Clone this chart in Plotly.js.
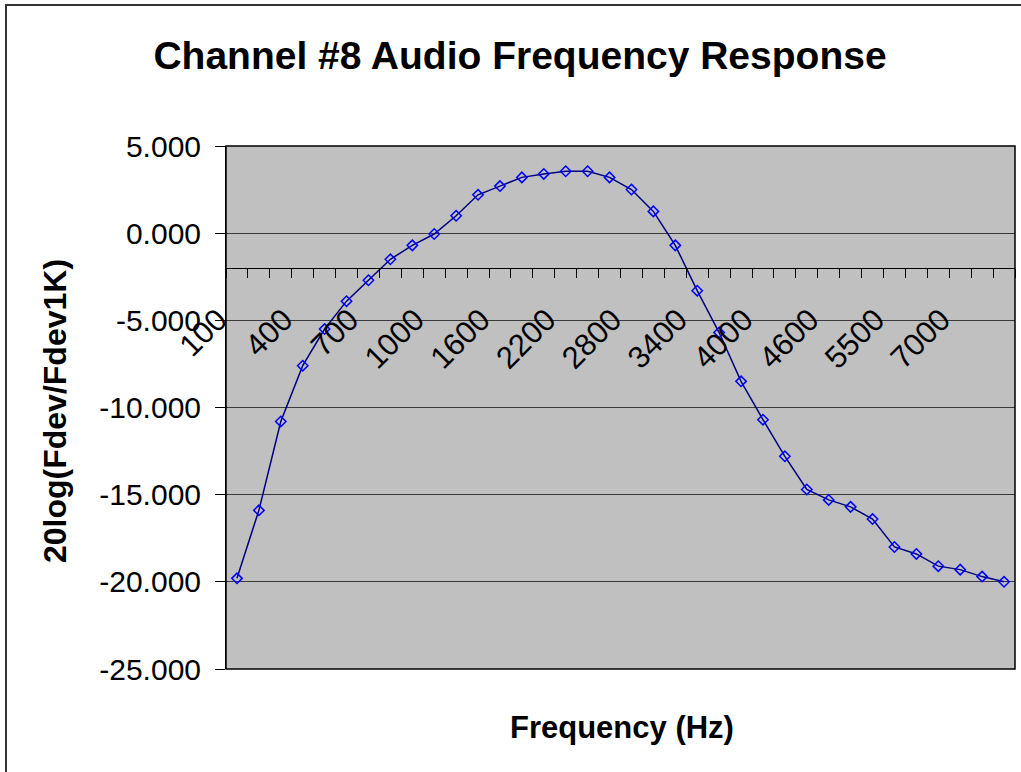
<!DOCTYPE html>
<html>
<head>
<meta charset="utf-8">
<script src="https://cdn.plot.ly/plotly-3.0.1.min.js"></script>
<style>
  html, body { margin: 0; padding: 0; background: #fff; overflow: hidden; }
  #chart { position: absolute; left: 0; top: 0; width: 1021px; height: 772px; }
  #frame { position: absolute; left: 5px; top: 4px; width: 1100px; height: 900px;
           border-left: 2px solid #333; border-top: 2px solid #333; pointer-events: none; }
</style>
</head>
<body>
<div id="chart"></div>
<div id="frame"></div>
<script>
// Frequencies (Hz) – category axis, every third labelled
const frequencies = ["100","200","300","400","500","600","700","800","900","1000",
  "1200","1400","1600","1800","2000","2200","2400","2600","2800","3000",
  "3200","3400","3600","3800","4000","4200","4400","4600","4900","5200",
  "5500","6000","6500","7000","7500","8000"];

// 20log(Fdev/Fdev1K) values
const responseDb = [-19.8, -15.9, -10.8, -7.6, -5.5, -3.9, -2.7, -1.5, -0.7, -0.05,
  1.0, 2.2, 2.7, 3.2, 3.4, 3.55, 3.55, 3.2, 2.5, 1.25,
  -0.7, -3.3, -5.7, -8.5, -10.7, -12.8, -14.7, -15.3, -15.7, -16.4,
  -18.0, -18.4, -19.1, -19.3, -19.7, -20.0];

const yTickVals = [-25, -20, -15, -10, -5, 0, 5];
const yTickText = ["-25.000", "-20.000", "-15.000", "-10.000", "-5.000", "0.000", "5.000"];

const axisCross = -2;   // value where the category axis crosses the value axis
const yMin = -25, yMax = 5;

const FONT = "Arial, 'Liberation Sans', sans-serif";

const trace = {
  type: "scatter",
  mode: "lines+markers",
  x: frequencies,
  y: responseDb,
  line: { color: "#000080", width: 1.5 },
  marker: { symbol: "diamond-open", size: 8, color: "#0000FF", line: { color: "#0000FF", width: 1.5 } },
  cliponaxis: false,
  hoverinfo: "x+y"
};

const layout = {
  width: 1021,
  height: 772,
  margin: { l: 226, r: 6, t: 146, b: 103, pad: 0 },
  paper_bgcolor: "#ffffff",
  plot_bgcolor: "#C0C0C0",
  showlegend: false,
  font: { family: FONT, color: "#000" },
  title: {
    text: "<b>Channel #8 Audio Frequency Response</b>",
    font: { family: FONT, size: 39, color: "#000" },
    x: 520 / 1021, xanchor: "center", xref: "container",
    y: 1 - 55 / 772, yanchor: "middle", yref: "container"
  },
  xaxis: {
    type: "category",
    range: [-0.5, frequencies.length - 0.5],
    anchor: "free",
    position: (axisCross - yMin) / (yMax - yMin),
    showline: true, linecolor: "#000", linewidth: 1,
    showgrid: false, zeroline: false,
    ticks: "outside", ticklen: 9, tickcolor: "#000", tickwidth: 1,
    tickson: "boundaries",
    dtick: 1,
    ticklabelstep: 3,
    tickangle: -45,
    ticklabelshift: -19,
    ticklabelstandoff: 20,
    tickfont: { family: FONT, size: 31, color: "#000" },
    automargin: false
  },
  yaxis: {
    range: [yMin, yMax],
    tickvals: yTickVals,
    ticktext: yTickText,
    showline: true, linecolor: "#000", linewidth: 1,
    showgrid: true, gridcolor: "#3a3a3a", gridwidth: 1,
    zeroline: false,
    ticks: "outside", ticklen: 10, tickcolor: "#000", tickwidth: 1,
    tickfont: { family: FONT, size: 30, color: "#000" },
    ticklabelstandoff: 8,
    automargin: false
  },
  shapes: [{
    type: "rect", xref: "paper", yref: "paper", x0: 0, x1: 1, y0: 0, y1: 1,
    line: { color: "#000", width: 1.5 }, fillcolor: "rgba(0,0,0,0)", layer: "above"
  }],
  annotations: [
    {
      text: "<b>Frequency (Hz)</b>", xref: "paper", yref: "paper",
      x: (622 - 226) / 789, y: (669 - 727) / 523,
      xanchor: "center", yanchor: "middle", showarrow: false,
      font: { family: FONT, size: 31, color: "#000" }
    },
    {
      text: "<b>20log(Fdev/Fdev1K)</b>", xref: "paper", yref: "paper",
      x: (55 - 226) / 789, y: (669 - 411) / 523,
      xanchor: "center", yanchor: "middle", textangle: -90, showarrow: false,
      font: { family: FONT, size: 32, color: "#000" }
    }
  ]
};

Plotly.newPlot("chart", [trace], layout, { staticPlot: true, displayModeBar: false });
</script>
</body>
</html>
